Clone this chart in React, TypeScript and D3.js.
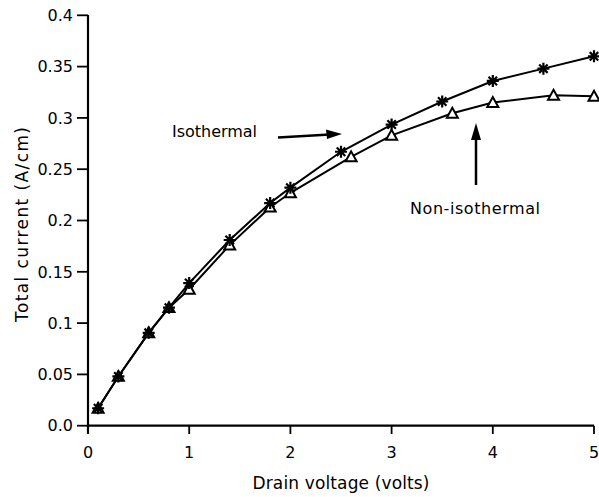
import React from "react";
import * as d3 from "d3";

const isoX = [0.1, 0.3, 0.6, 0.8, 1.0, 1.4, 1.8, 2.0, 2.5, 3.0, 3.5, 4.0, 4.5, 5.0];
const isoY = [0.017, 0.048, 0.0905, 0.115, 0.139, 0.181, 0.217, 0.232, 0.267, 0.2935, 0.316, 0.336, 0.348, 0.360];
const nonX = [0.1, 0.3, 0.6, 0.8, 1.0, 1.4, 1.8, 2.0, 2.6, 3.0, 3.6, 4.0, 4.6, 5.0];
const nonY = [0.017, 0.048, 0.0905, 0.115, 0.133, 0.176, 0.213, 0.227, 0.262, 0.283, 0.3045, 0.315, 0.322, 0.321];
const xTicks = [0, 1, 2, 3, 4, 5];
const yTicks = [0, 0.05, 0.1, 0.15, 0.2, 0.25, 0.3, 0.35, 0.4];
const yTickLabels = ["0.0", "0.05", "0.1", "0.15", "0.2", "0.25", "0.3", "0.35", "0.4"];

export default function App() {
  const W = 599, H = 497;
  const x = d3.scaleLinear().domain([0, 5]).range([88, 594]);
  const y = d3.scaleLinear().domain([0, 0.4]).range([425.7, 15.3]);
  const font = "'DejaVu Sans', Verdana, sans-serif";
  const isoPath = d3.line<[number, number]>().x(d => x(d[0])).y(d => y(d[1]))(isoX.map((v, i) => [v, isoY[i]]));
  const nonPath = d3.line<[number, number]>().x(d => x(d[0])).y(d => y(d[1]))(nonX.map((v, i) => [v, nonY[i]]));

  const star = (cx: number, cy: number, k: number) => {
    const r = 6;
    const arms = [0, 45, 90, 135].map(a => {
      const rad = (a * Math.PI) / 180;
      return `M${cx - r * Math.cos(rad)},${cy - r * Math.sin(rad)}L${cx + r * Math.cos(rad)},${cy + r * Math.sin(rad)}`;
    });
    return <path key={k} d={arms.join("")} stroke="#000" strokeWidth={2.2} fill="none" />;
  };
  const tri = (cx: number, cy: number, k: number) => {
    const s = 5.5;
    return (
      <path key={k} d={`M${cx},${cy - s}L${cx + s},${cy + s * 0.8}L${cx - s},${cy + s * 0.8}Z`}
        stroke="#000" strokeWidth={2} fill="#fff" />
    );
  };

  return (
    <svg width={W} height={H} style={{ position: "absolute", left: 0, top: 0, background: "#fff" }}>
      <rect width={W} height={H} fill="#fff" />
      <line x1={88} y1={15} x2={88} y2={433} stroke="#000" strokeWidth={2.2} />
      <line x1={87} y1={425.7} x2={594} y2={425.7} stroke="#000" strokeWidth={2.2} />
      {yTicks.map((t, i) => (
        <g key={"y" + i}>
          <line x1={77} x2={88} y1={y(t)} y2={y(t)} stroke="#000" strokeWidth={1.8} />
          <text x={73} y={y(t)} dy="0.36em" textAnchor="end" fontFamily={font} fontSize={16}>{yTickLabels[i]}</text>
        </g>
      ))}
      {xTicks.map((t, i) => (
        <g key={"x" + i}>
          <line x1={x(t)} x2={x(t)} y1={425.7} y2={434} stroke="#000" strokeWidth={1.8} />
          <text x={x(t)} y={452} dy="0.36em" textAnchor="middle" fontFamily={font} fontSize={16}>{t}</text>
        </g>
      ))}
      <text x={252.5} y={483} dy="0.36em" fontFamily={font} fontSize={17} textLength={177} lengthAdjust="spacing">Drain voltage (volts)</text>
      <text transform="translate(22,322) rotate(-90)" dy="0.36em" fontFamily={font} fontSize={17} textLength={195} lengthAdjust="spacing">Total current (A/cm)</text>

      <path d={nonPath ?? ""} stroke="#000" strokeWidth={2} fill="none" />
      <path d={isoPath ?? ""} stroke="#000" strokeWidth={2} fill="none" />
      {nonX.map((v, i) => tri(x(v), y(nonY[i]), i))}
      {isoX.map((v, i) => star(x(v), y(isoY[i]), i))}

      <text x={172} y={131} dy="0.36em" fontFamily={font} fontSize={16} textLength={85} lengthAdjust="spacing">Isothermal</text>
      <line x1={278} y1={137.5} x2={330} y2={134.5} stroke="#000" strokeWidth={2.5} />
      <path d="M342,134 L326,129.5 L327,139 Z" fill="#000" />
      <text x={410} y={208} dy="0.36em" fontFamily={font} fontSize={16} textLength={130} lengthAdjust="spacing">Non-isothermal</text>
      <line x1={476} y1={185} x2={476} y2={135} stroke="#000" strokeWidth={2.5} />
      <path d="M476,123 L471,140 L481,140 Z" fill="#000" />
    </svg>
  );
}
